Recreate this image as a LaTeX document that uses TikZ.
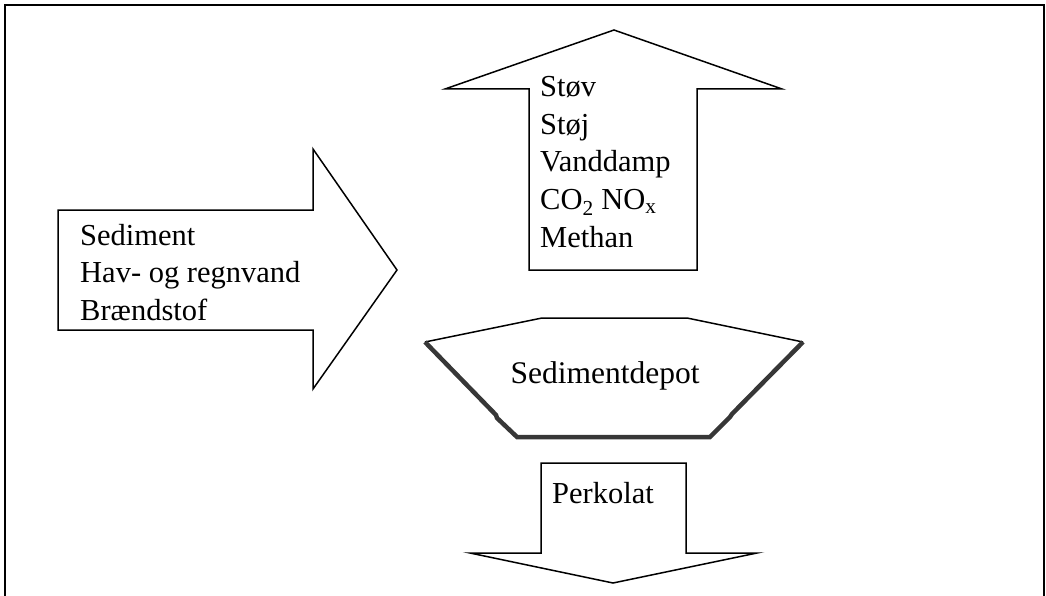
\documentclass[tikz,border=0pt]{standalone}
\usepackage{fontspec}
\setmainfont{Liberation Serif}
\usetikzlibrary{positioning}
\definecolor{cwall}{RGB}{55,55,55}
\tikzset{
  blockarrow/.style={draw=black, line width=1.5pt, fill=white, line join=miter},
  listtext/.style={anchor=base west, inner sep=0pt, align=left,
    font=\fontsize{30.5}{37.5}\selectfont},
  depotwall/.style={draw=cwall, line width=4.5pt, line cap=butt}
}
\begin{document}
\begin{tikzpicture}[x=1pt, y=-1pt]
  \useasboundingbox (0,0) rectangle (1046,596);
  % frame
  \draw[line width=1.2pt] (5,598) -- (5,5) -- (1044,5) -- (1044,598);
  % inflow arrow
  \draw[blockarrow] (58,210) -- (313,210) -- (313,149) -- (397,270)
        -- (313,389) -- (313,330) -- (58,330) -- cycle;
  \node[listtext] (inflow) at (80,320) {Sediment\\Hav- og regnvand\\Brændstof};
  % emissions arrow
  \draw[blockarrow] (529,270) -- (529,89) -- (445,89) -- (614,30)
        -- (782,89) -- (697,89) -- (697,270) -- cycle;
  \node[listtext] (emis) at (540,247)
       {Støv\\Støj\\Vanddamp\\CO\textsubscript{2} NO\textsubscript{x}\\Methan};
  % depot
  \draw[line width=1.5pt] (425,342) -- (542,318) -- (687,318) -- (803,342);
  \draw[depotwall] (425,342) -- (496,415) -- (497,418) -- (517,437)
        -- (710,437) -- (730,417) -- (732,414) -- (803,342);
  \node[inner sep=0pt, anchor=base, font=\fontsize{31.5}{37}\selectfont]
       (depot) at (605,383) {Sedimentdepot};
  % percolate arrow
  \draw[blockarrow] (541,463) -- (686,463) -- (686,553) -- (757,553)
        -- (613,583) -- (470,553) -- (541,553) -- cycle;
  \node[listtext] (perk) at (552,503) {Perkolat};
\end{tikzpicture}
\end{document}
